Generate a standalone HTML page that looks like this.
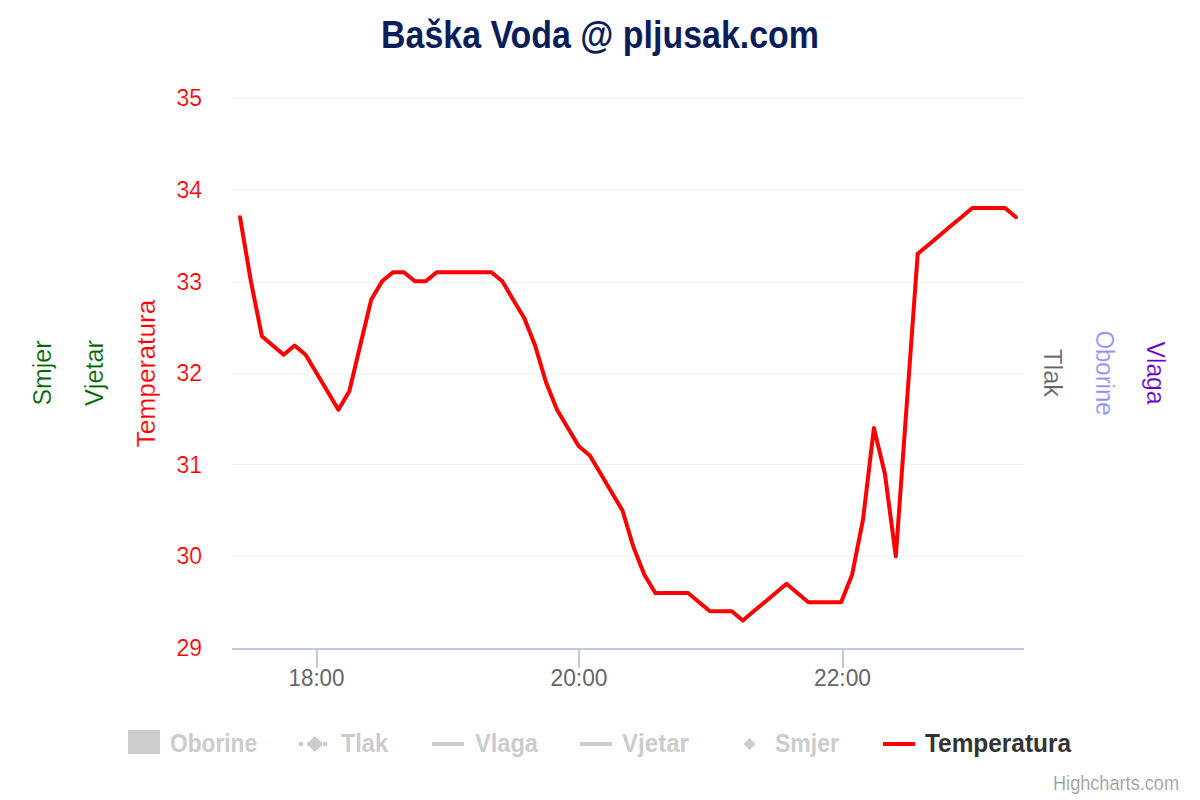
<!DOCTYPE html>
<html><head><meta charset="utf-8">
<style>
html,body{margin:0;padding:0;background:#fff;}
body{width:1200px;height:800px;overflow:hidden;}
svg{display:block;font-family:"Liberation Sans",sans-serif;}
.cr{stroke:#ffffff;stroke-width:0.2px;}
.thin text{stroke:#ffffff;stroke-width:0.2px;paint-order:normal;}
</style></head>
<body>
<svg width="1200" height="800" viewBox="0 0 1200 800">
<rect x="0" y="0" width="1200" height="800" fill="#ffffff"/>
<!-- title -->
<text x="600" y="48" text-anchor="middle" font-size="39" font-weight="bold" fill="#0a1e5c" textLength="438" lengthAdjust="spacingAndGlyphs">Baška Voda @ pljusak.com</text>
<!-- grid -->
<g stroke="#f0f0f0" stroke-width="1">
<line x1="232" y1="98" x2="1024" y2="98"/>
<line x1="232" y1="190" x2="1024" y2="190"/>
<line x1="232" y1="282.3" x2="1024" y2="282.3"/>
<line x1="232" y1="374" x2="1024" y2="374"/>
<line x1="232" y1="464.5" x2="1024" y2="464.5"/>
<line x1="232" y1="556" x2="1024" y2="556"/>
</g>
<!-- x axis -->
<g stroke="#bccbdd" stroke-width="2">
<line x1="232" y1="649" x2="1024" y2="649"/>
<line x1="317" y1="649" x2="317" y2="668"/>
<line x1="579" y1="649" x2="579" y2="668"/>
<line x1="843" y1="649" x2="843" y2="668"/>
</g>
<g font-size="23" fill="#666666" text-anchor="middle">
<text x="316.5" y="686" textLength="56" lengthAdjust="spacingAndGlyphs">18:00</text>
<text x="579" y="686" textLength="57" lengthAdjust="spacingAndGlyphs">20:00</text>
<text x="842.5" y="686" textLength="57" lengthAdjust="spacingAndGlyphs">22:00</text>
</g>
<!-- y labels -->
<g class="thin" font-size="23" fill="#ff0000" text-anchor="end">
<text x="202" y="106">35</text>
<text x="202" y="198">34</text>
<text x="202" y="289.5">33</text>
<text x="202" y="381">32</text>
<text x="202" y="473">31</text>
<text x="202" y="564">30</text>
<text x="202" y="656">29</text>
</g>
<!-- axis titles -->
<g class="thin" font-size="26" text-anchor="middle">
<text transform="translate(51,373) rotate(-90)" fill="#006400" textLength="65" lengthAdjust="spacingAndGlyphs">Smjer</text>
<text transform="translate(103,373) rotate(-90)" fill="#006400" textLength="66" lengthAdjust="spacingAndGlyphs">Vjetar</text>
<text transform="translate(155,373.5) rotate(-90)" fill="#ff0000" textLength="148" lengthAdjust="spacingAndGlyphs">Temperatura</text>
<text transform="translate(1043.5,373) rotate(90)" fill="#666666" textLength="48" lengthAdjust="spacingAndGlyphs">Tlak</text>
<text transform="translate(1095.7,373) rotate(90)" fill="#9090ff" textLength="85" lengthAdjust="spacingAndGlyphs">Oborine</text>
<text transform="translate(1147.3,373) rotate(90)" fill="#6600cc" textLength="63" lengthAdjust="spacingAndGlyphs">Vlaga</text>
</g>
<!-- series -->
<path d="M 240.0 217.2 L 250.9 281.3 L 261.9 336.3 L 272.8 345.5 L 283.7 354.7 L 294.6 345.5 L 305.6 354.7 L 316.5 373.0 L 327.4 391.3 L 338.4 409.7 L 349.3 391.3 L 360.2 345.5 L 371.2 299.7 L 382.1 281.3 L 393.0 272.2 L 403.9 272.2 L 414.9 281.3 L 425.8 281.3 L 436.7 272.2 L 447.7 272.2 L 458.6 272.2 L 469.5 272.2 L 480.5 272.2 L 491.4 272.2 L 502.3 281.3 L 513.2 299.7 L 524.2 318.0 L 535.1 345.5 L 546.0 382.2 L 557.0 409.7 L 567.9 428.0 L 578.8 446.3 L 589.8 455.5 L 600.7 473.8 L 611.6 492.2 L 622.5 510.5 L 633.5 547.2 L 644.4 574.7 L 655.3 593.0 L 666.3 593.0 L 677.2 593.0 L 688.1 593.0 L 699.1 602.2 L 710.0 611.3 L 720.9 611.3 L 731.8 611.3 L 742.8 620.5 L 753.7 611.3 L 764.6 602.2 L 775.6 593.0 L 786.5 583.8 L 797.4 593.0 L 808.4 602.2 L 819.3 602.2 L 830.2 602.2 L 841.1 602.2 L 852.1 574.7 L 863.0 519.7 L 873.9 428.0 L 884.9 473.8 L 895.8 556.3 L 906.7 405.1 L 917.7 253.8 L 928.6 244.7 L 939.5 235.5 L 950.4 226.3 L 961.4 217.2 L 972.3 208.0 L 983.2 208.0 L 994.2 208.0 L 1005.1 208.0 L 1016.0 217.2" fill="none" stroke="#ff0000" stroke-width="4" stroke-linejoin="round" stroke-linecap="round"/>
<!-- legend -->
<rect x="128" y="730" width="32" height="24" fill="#cccccc"/>
<g font-size="26" font-weight="bold" fill="#cccccc">
<text x="170" y="752" textLength="87" lengthAdjust="spacingAndGlyphs">Oborine</text>
<text x="341" y="752" textLength="47" lengthAdjust="spacingAndGlyphs">Tlak</text>
<text x="475" y="752" textLength="63" lengthAdjust="spacingAndGlyphs">Vlaga</text>
<text x="622" y="752" textLength="67" lengthAdjust="spacingAndGlyphs">Vjetar</text>
<text x="775" y="752" textLength="64" lengthAdjust="spacingAndGlyphs">Smjer</text>
</g>
<line x1="299" y1="744" x2="327" y2="744" stroke="#cccccc" stroke-width="4" stroke-dasharray="4 4"/>
<path d="M315 736 L323 744 L315 752 L307 744 Z" fill="#cccccc"/>
<rect x="432" y="742" width="32" height="4" fill="#cccccc"/>
<rect x="580" y="742" width="32" height="4" fill="#cccccc"/>
<path d="M749.6 738 L755.5 744 L749.6 750 L743.7 744 Z" fill="#cccccc"/>
<rect x="883" y="742" width="32" height="4" fill="#ff0000"/>
<text x="925" y="752" font-size="26" font-weight="bold" fill="#333333" textLength="146" lengthAdjust="spacingAndGlyphs">Temperatura</text>
<!-- credits -->
<text class="cr" x="1179" y="790" font-size="20" fill="#999999" text-anchor="end" textLength="126" lengthAdjust="spacingAndGlyphs">Highcharts.com</text>
</svg>
</body></html>
